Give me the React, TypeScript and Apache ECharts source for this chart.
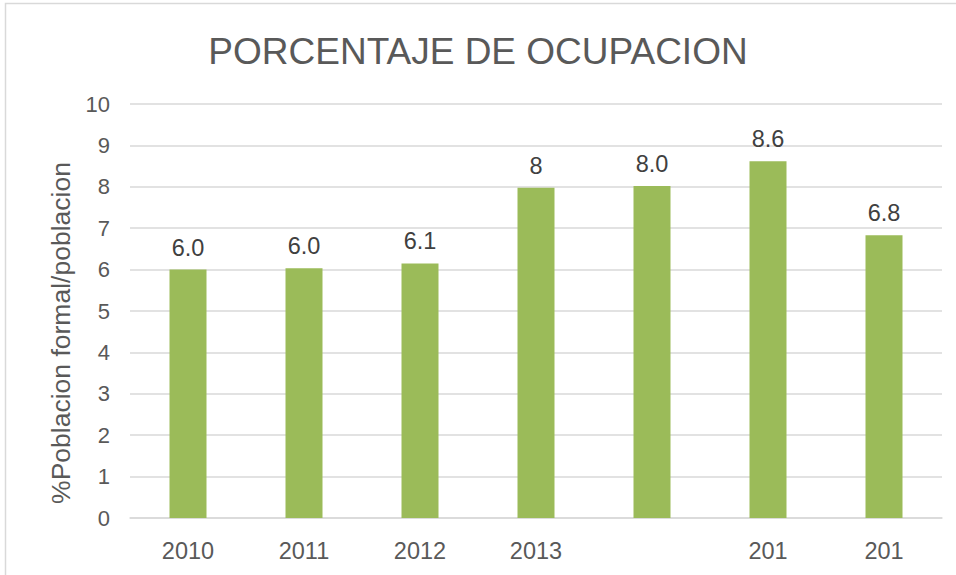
import React, { useEffect, useRef } from "react";
import * as echarts from "echarts";

const categories = ["2010", "2011", "2012", "2013", "", "201", "201"];
const values = [6.0, 6.03, 6.15, 7.98, 8.02, 8.62, 6.83];
const valueLabels = ["6.0", "6.0", "6.1", "8", "8.0", "8.6", "6.8"];
const titleText = "PORCENTAJE DE OCUPACION";
const yAxisName = "%Poblacion formal/poblacion";

const FONT = "'Liberation Sans', Arial, sans-serif";
const TEXT = "#595959";

export default function App() {
  const ref = useRef<HTMLDivElement>(null);
  useEffect(() => {
    if (!ref.current) return;
    const chart = echarts.init(ref.current, null, { renderer: "svg" });
    chart.setOption({
      animation: false,
      backgroundColor: "#ffffff",
      title: {
        text: titleText,
        left: "center",
        top: 28,
        textStyle: { fontFamily: FONT, fontSize: 37, fontWeight: "normal", color: TEXT },
      },
      graphic: [
        {
          type: "rect",
          shape: { x: 5.5, y: 3.5, width: 1200, height: 1200 },
          style: { fill: "none", stroke: "#d9d9d9", lineWidth: 1.5 },
          silent: true,
        },
      ],
      grid: { left: 130, right: 14, top: 104, bottom: 57 },
      xAxis: {
        type: "category",
        data: categories,
        axisTick: { show: false },
        axisLine: { lineStyle: { color: "#d9d9d9", width: 1.5 } },
        axisLabel: { fontFamily: FONT, fontSize: 23.5, color: TEXT, margin: 21, interval: 0 },
      },
      yAxis: {
        type: "value",
        min: 0,
        max: 10,
        interval: 1,
        name: yAxisName,
        nameLocation: "middle",
        nameGap: 52,
        nameRotate: 90,
        nameTextStyle: { fontFamily: FONT, fontSize: 26.5, color: TEXT, padding: [0, 44, 0, 0] },
        axisLine: { show: false },
        axisTick: { show: false },
        splitLine: { lineStyle: { color: "#d9d9d9", width: 1.5 } },
        axisLabel: { fontFamily: FONT, fontSize: 22, color: TEXT, margin: 20 },
      },
      series: [
        {
          type: "bar",
          data: values,
          barWidth: 37,
          itemStyle: { color: "#9BBB59" },
          label: {
            show: true,
            position: "top",
            distance: 10,
            fontFamily: FONT,
            fontSize: 23.5,
            color: "#404040",
            formatter: (p: any) => valueLabels[p.dataIndex],
          },
        },
      ],
    });
    return () => chart.dispose();
  }, []);
  return (
    <div
      ref={ref}
      style={{ position: "fixed", left: 0, top: 0, width: 956, height: 575 }}
    />
  );
}
